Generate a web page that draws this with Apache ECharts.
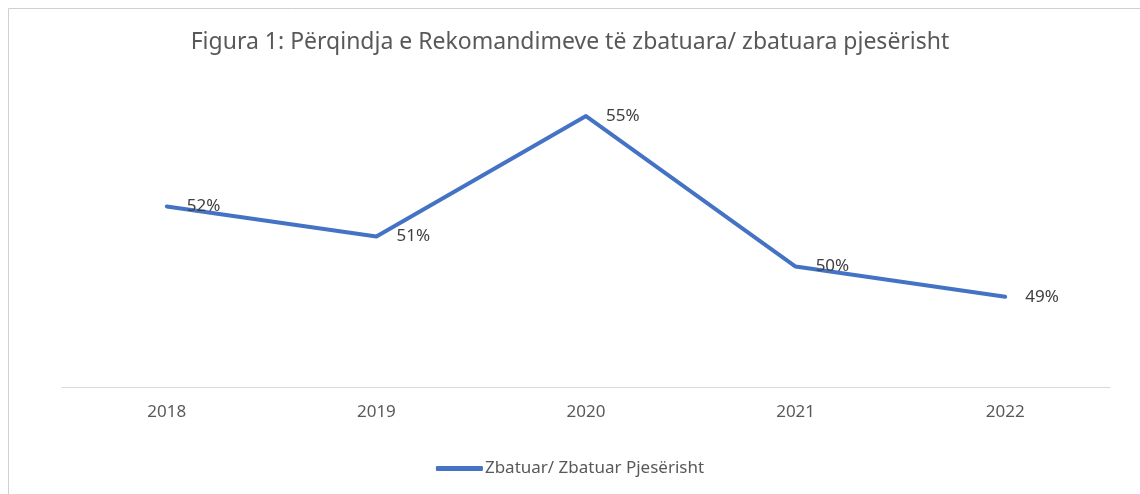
<!DOCTYPE html>
<html>
<head>
<meta charset="utf-8">
<script src="https://cdn.jsdelivr.net/npm/echarts@6/dist/echarts.min.js"></script>
<style>
html, body { margin: 0; padding: 0; background: #fff; }
#main { width: 1140px; height: 494px; }
</style>
</head>
<body>
<div id="main"></div>
<script>
// vitet dhe perqindjet e lexuara nga grafiku
var years = ['2018', '2019', '2020', '2021', '2022'];
var zbatuarValues = [52, 51, 55, 50, 49];
var seriesName = 'Zbatuar/ Zbatuar Pjesërisht';
var chartTitle = 'Figura 1: Përqindja e Rekomandimeve të zbatuara/ zbatuara pjesërisht';

var myChart = echarts.init(document.getElementById('main'));
myChart.setOption({
    animation: false,
    textStyle: { fontFamily: 'Noto Sans' },
    graphic: [{
        type: 'rect',
        shape: { x: 8.5, y: 8.5, width: 1200, height: 600 },
        style: { fill: 'none', stroke: '#d0d0d0', lineWidth: 1 },
        silent: true
    }],
    title: {
        text: chartTitle,
        left: 'center',
        top: 26,
        textStyle: { fontSize: 23, fontWeight: 'normal', color: '#595959' }
    },
    legend: {
        bottom: 12,
        left: 'center',
        icon: 'roundRect',
        itemWidth: 47,
        itemHeight: 5,
        itemGap: 10,
        textStyle: { fontSize: 17, color: '#595959', padding: [0, 0, 0, -3] },
        data: [seriesName]
    },
    grid: { left: 62, right: 30, top: 86, bottom: 107 },
    xAxis: {
        type: 'category',
        data: years,
        boundaryGap: true,
        axisLine: { lineStyle: { color: '#d9d9d9', width: 1 } },
        axisTick: { show: false },
        axisLabel: { fontSize: 17, color: '#595959', margin: 17 }
    },
    yAxis: {
        type: 'value',
        min: 46,
        max: 56,
        show: false,
        splitLine: { show: false }
    },
    series: [{
        name: seriesName,
        type: 'line',
        data: zbatuarValues,
        symbol: 'circle',
        symbolSize: 0.1,
        lineStyle: { color: '#4472c4', width: 4, cap: 'round', join: 'round' },
        itemStyle: { color: '#4472c4' },
        label: {
            show: true,
            position: 'right',
            distance: 20,
            fontSize: 17,
            color: '#404040',
            formatter: '{c}%'
        }
    }]
});
</script>
</body>
</html>
